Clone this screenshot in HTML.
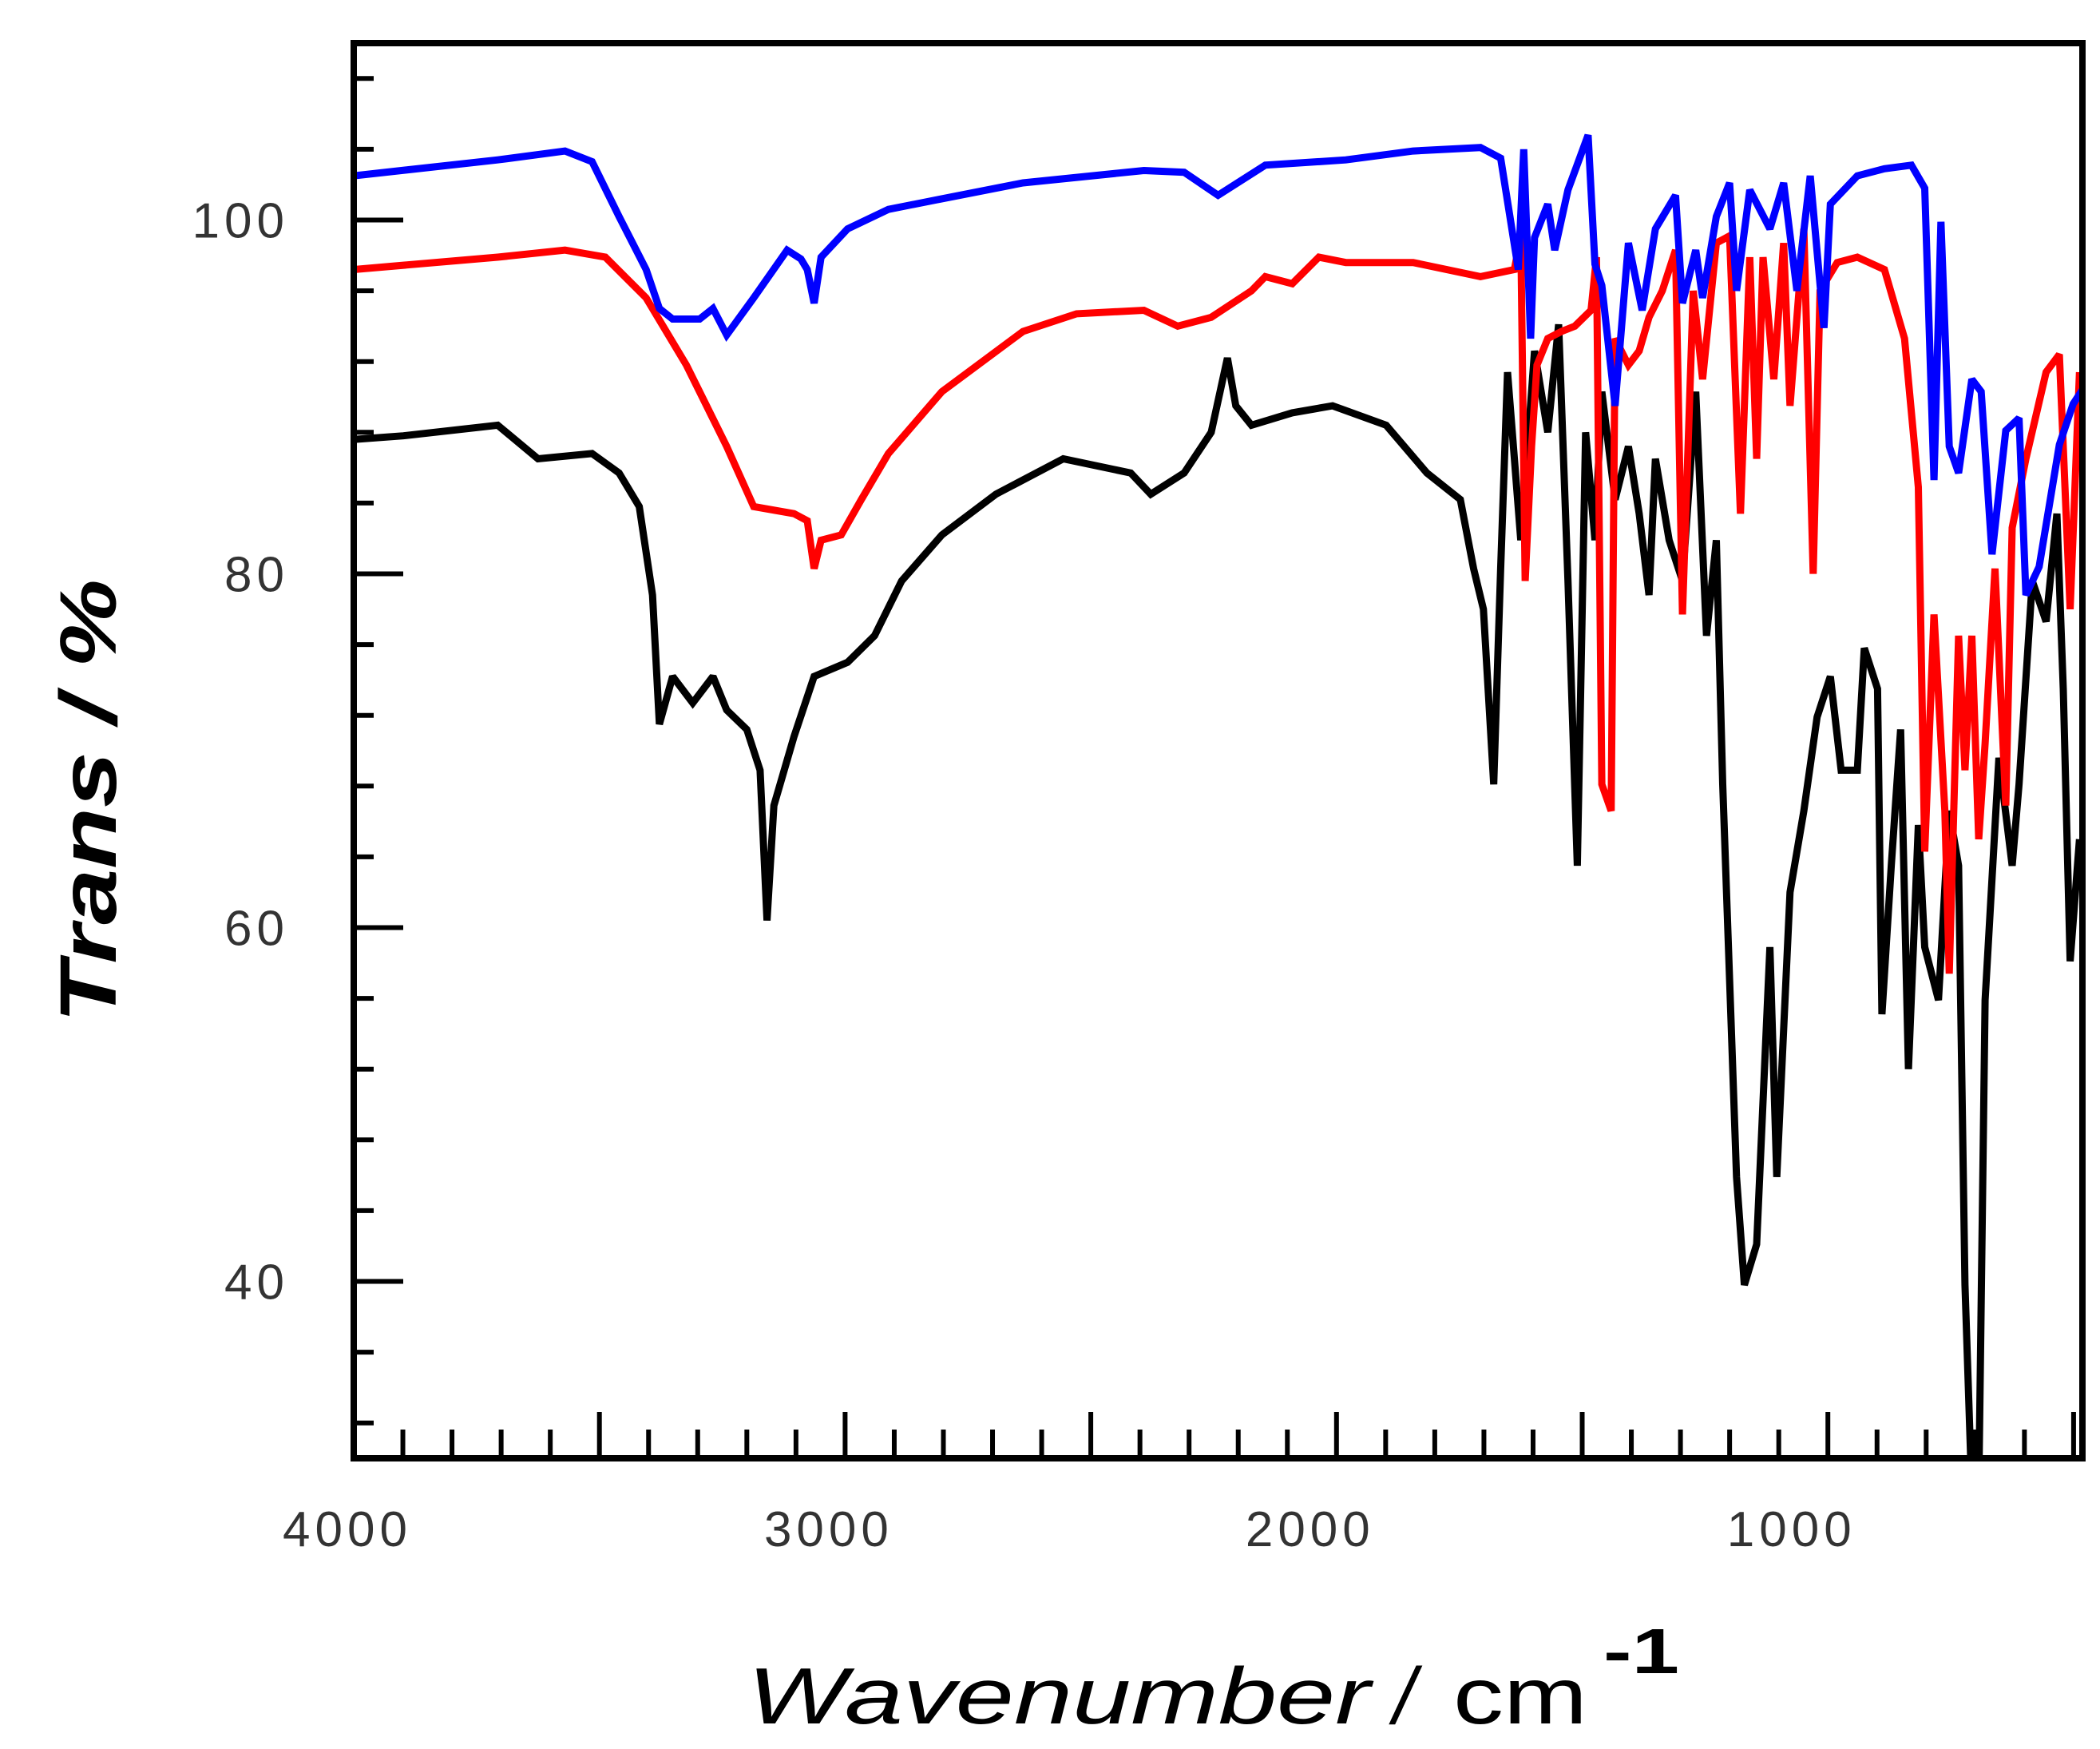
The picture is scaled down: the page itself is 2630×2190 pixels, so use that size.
<!DOCTYPE html>
<html><head><meta charset="utf-8"><style>
html,body{margin:0;padding:0;background:#fff;}
svg{display:block;}
</style></head><body>
<svg id="chart" width="2630" height="2190" viewBox="0 0 2630 2190" xmlns="http://www.w3.org/2000/svg">
<defs><clipPath id="plotClip"><rect x="443" y="54" width="2165" height="1772"/></clipPath></defs>
<g id="series" clip-path="url(#plotClip)"></g>
<g id="axes"></g>
<text transform="translate(145,1003) rotate(-90)" text-anchor="middle" font-family="Liberation Sans, sans-serif" font-size="100" font-weight="bold" font-style="italic" textLength="556" lengthAdjust="spacingAndGlyphs" fill="#000">Trans / %</text>
<g font-family="Liberation Sans, sans-serif" fill="#000">
<text x="936" y="2158" font-size="100" font-style="italic" textLength="780" lengthAdjust="spacingAndGlyphs">Wavenumber</text>
<text x="1745" y="2158" font-size="100" font-style="italic">/</text>
<text x="1820" y="2158" font-size="100" textLength="168" lengthAdjust="spacingAndGlyphs">cm</text>
<text x="2008" y="2095" font-size="80" font-weight="bold" textLength="95" lengthAdjust="spacingAndGlyphs">-1</text>
</g>
</svg>
<script>
const blueWn = [4000,3707,3570,3515,3460,3405,3378,3351,3296,3269,3241,3186,3118,3090,3077,3063,3049,2995,2912,2803,2638,2392,2310,2241,2145,1981,1844,1707,1666,1630,1619,1605,1597,1570,1556,1529,1488,1474,1460,1433,1406,1378,1351,1310,1296,1269,1255,1227,1200,1186,1159,1118,1090,1063,1036,1008,995,940,885,830,803,784,770,753,734,707,688,666,638,611,597,570,529,501,482];
const blueT = [102.5,103.4,103.9,103.3,100.2,97.2,95.0,94.4,94.4,95.0,93.5,95.6,98.3,97.8,97.2,95.3,97.9,99.5,100.6,101.2,102.1,102.8,102.7,101.4,103.1,103.4,103.9,104.1,103.5,97.2,104.0,93.3,99.0,100.9,98.3,101.7,104.8,97.5,96.3,89.5,98.7,94.9,99.5,101.4,95.3,98.3,95.6,100.2,102.1,96.0,101.7,99.5,102.1,96.0,102.5,93.9,100.9,102.5,102.9,103.1,101.8,85.3,99.9,87.2,85.7,91.0,90.3,81.1,88.1,88.8,78.8,80.4,87.3,89.6,90.4];
const redWn = [4000,3707,3570,3488,3405,3323,3241,3186,3104,3077,3063,3049,3008,2967,2912,2803,2638,2529,2392,2323,2255,2173,2145,2090,2036,1981,1844,1707,1638,1625,1616,1603,1592,1570,1542,1515,1482,1471,1460,1441,1433,1406,1384,1364,1337,1310,1296,1274,1255,1227,1200,1178,1159,1145,1132,1110,1090,1077,1049,1030,1016,981,940,885,844,816,803,784,762,753,734,721,707,693,680,660,638,625,597,556,529,507,488];
const redT = [97.2,97.9,98.3,97.9,95.6,91.8,87.2,83.8,83.4,83.0,80.3,81.9,82.2,84.2,86.8,90.3,93.7,94.7,94.9,94.0,94.5,96.0,96.8,96.4,97.9,97.6,97.6,96.8,97.2,99.1,79.6,87.2,91.8,93.3,93.7,94.0,94.9,97.9,68.1,66.6,93.3,91.8,92.6,94.5,96.0,98.3,77.7,96.0,91.0,98.7,99.1,83.4,97.9,86.5,97.9,91.0,98.7,89.5,99.5,80.0,96.0,97.6,97.9,97.2,93.3,84.9,64.3,77.7,66.6,57.4,76.5,68.9,76.5,65.0,70.4,80.3,66.9,82.6,86.5,91.4,92.4,78.0,91.4];
const blackWn = [4000,3899,3707,3625,3515,3460,3419,3392,3378,3351,3310,3269,3241,3200,3173,3159,3145,3104,3063,2995,2940,2885,2803,2693,2556,2419,2378,2310,2255,2222,2205,2173,2090,2008,1899,1816,1748,1721,1701,1680,1666,1652,1638,1625,1597,1570,1548,1529,1510,1493,1474,1460,1433,1406,1384,1364,1351,1323,1296,1269,1247,1227,1214,1186,1170,1145,1118,1104,1077,1049,1022,995,973,940,926,899,890,871,852,836,816,803,775,753,734,721,707,693,680,652,625,611,584,556,534,521,507,488];
const blackT = [87.6,87.8,88.4,86.5,86.8,85.7,83.8,78.8,71.5,74.2,72.7,74.2,72.3,71.2,68.9,60.4,66.9,70.8,74.2,75.0,76.5,79.6,82.2,84.5,86.5,85.7,84.5,85.7,88.0,92.2,89.5,88.4,89.1,89.5,88.4,85.7,84.2,80.3,78.0,68.1,80.3,91.4,86.5,81.9,92.6,88.0,94.1,79.6,63.5,88.0,81.9,90.3,84.2,87.2,83.4,78.8,86.5,81.9,79.6,90.3,76.5,81.9,68.1,45.9,39.8,42.1,58.9,45.9,62.0,66.6,71.9,74.2,68.9,68.9,75.8,73.5,55.1,63.5,71.2,52.0,65.8,58.9,55.9,66.6,63.5,39.8,28.0,28.0,55.9,69.6,63.5,68.1,79.6,77.3,83.4,73.5,58.1,65.0];
const xTicksMajor = [4000,3500,3000,2500,2000,1500,1000,500];
const xTickLabels = [4000,3000,2000,1000];
const yTickLabels = [100,80,60,40];

const L=443,R=2608,T=54,B=1826,XMAX=4000,XMIN=482,YMAX=110,YMIN=30;
const NS='http://www.w3.org/2000/svg';
function xs(v){return L+(XMAX-v)*(R-L)/(XMAX-XMIN);}
function ys(v){return T+(YMAX-v)*(B-T)/(YMAX-YMIN);}
function mk(tag,attrs,parent){const e=document.createElementNS(NS,tag);for(const k in attrs)e.setAttribute(k,attrs[k]);parent.appendChild(e);return e;}

const sg=document.getElementById('series');
function drawSeries(wn,t,color,name){
  let d='';
  for(let i=0;i<wn.length;i++){d+=(i?'L':'M')+xs(wn[i]).toFixed(1)+','+ys(t[i]).toFixed(1);}
  const p=mk('path',{d:d,fill:'none',stroke:color,'stroke-width':9,'stroke-linejoin':'miter','stroke-miterlimit':2},sg);
  
  
}
drawSeries(blackWn,blackT,'#000','series-black');
drawSeries(redWn,redT,'#ff0000','series-red');
drawSeries(blueWn,blueT,'#0000ff','series-blue');

const ag=document.getElementById('axes');
const frame=mk('rect',{x:L,y:T,width:R-L,height:B-T,fill:'none',stroke:'#000','stroke-width':8},ag);


for(let v=4000; v>=XMIN; v-=100){
  const major = v%500===0;
  const len = major?58:36;
  const tk=mk('line',{x1:xs(v),x2:xs(v),y1:B,y2:B-len,stroke:'#000','stroke-width':6},ag);
  
  
}
xTickLabels.forEach(v=>{
  const off = 8+12.5*(4000-v)/1000;
  const t=mk('text',{x:xs(v)-off,y:1936,'text-anchor':'middle','font-family':'Liberation Sans, sans-serif','font-size':62,'letter-spacing':6,fill:'#333'},ag);
  t.textContent=v;
  
  
});
for(let v=32; v<=108; v+=4){
  const major = (v-100)%20===0;
  const len = major?62:25;
  const tk=mk('line',{x1:L,x2:L+len,y1:ys(v),y2:ys(v),stroke:'#000','stroke-width':6},ag);
  
  
}
yTickLabels.forEach(v=>{
  const t=mk('text',{x:362,y:ys(v)+22,'text-anchor':'end','font-family':'Liberation Sans, sans-serif','font-size':62,'letter-spacing':6,fill:'#333'},ag);
  t.textContent=v;
  
  
});
</script>
</body></html>
